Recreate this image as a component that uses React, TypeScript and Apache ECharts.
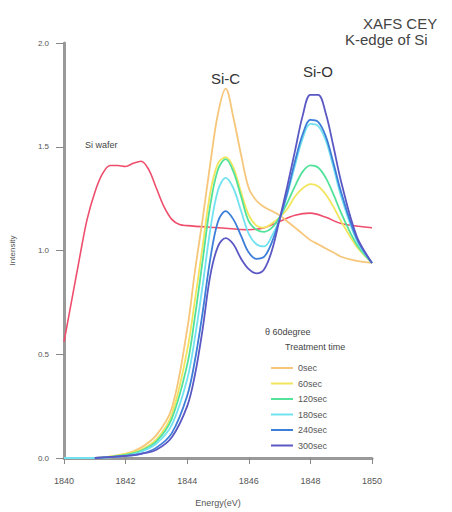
import React, { useEffect, useRef } from "react";
import * as echarts from "echarts";

const ENERGY = [1840, 1841, 1842, 1842.5, 1843, 1843.5, 1844, 1844.25, 1844.5, 1844.75, 1845, 1845.25, 1845.5, 1845.75, 1846, 1846.25, 1846.5, 1846.75, 1847, 1847.25, 1847.5, 1847.75, 1848, 1848.25, 1848.5, 1848.75, 1849, 1849.5, 1850];

const S0 = [0, 0, 0.02, 0.05, 0.11, 0.24, 0.62, 0.9, 1.15, 1.42, 1.66, 1.78, 1.64, 1.46, 1.3, 1.24, 1.21, 1.19, 1.17, 1.14, 1.11, 1.08, 1.05, 1.03, 1.01, 0.99, 0.97, 0.95, 0.94];
const S60 = [0, 0, 0.02, 0.04, 0.09, 0.21, 0.52, 0.76, 1.02, 1.28, 1.42, 1.45, 1.4, 1.28, 1.17, 1.12, 1.11, 1.13, 1.16, 1.2, 1.26, 1.3, 1.32, 1.31, 1.27, 1.21, 1.14, 1.02, 0.94];
const S120 = [0, 0, 0.015, 0.035, 0.08, 0.19, 0.45, 0.68, 0.95, 1.22, 1.39, 1.44, 1.38, 1.26, 1.14, 1.1, 1.09, 1.11, 1.16, 1.23, 1.31, 1.38, 1.41, 1.4, 1.35, 1.27, 1.18, 1.03, 0.94];
const S180 = [0, 0, 0.01, 0.03, 0.07, 0.16, 0.38, 0.58, 0.83, 1.1, 1.29, 1.35, 1.3, 1.19, 1.08, 1.03, 1.02, 1.07, 1.15, 1.27, 1.41, 1.54, 1.61, 1.6, 1.53, 1.4, 1.26, 1.05, 0.94];
const S240 = [null, 0, 0.01, 0.02, 0.05, 0.12, 0.3, 0.47, 0.7, 0.96, 1.14, 1.19, 1.15, 1.07, 0.99, 0.96, 0.97, 1.04, 1.15, 1.28, 1.43, 1.56, 1.63, 1.62, 1.55, 1.42, 1.28, 1.06, 0.94];
const S300 = [null, 0, 0.01, 0.02, 0.04, 0.1, 0.25, 0.4, 0.62, 0.88, 1.02, 1.06, 1.03, 0.96, 0.91, 0.89, 0.91, 1.0, 1.15, 1.31, 1.48, 1.65, 1.75, 1.75, 1.66, 1.5, 1.33, 1.07, 0.94];

const WAFER_E = [1840, 1840.25, 1840.5, 1840.75, 1841, 1841.25, 1841.5, 1841.75, 1842, 1842.25, 1842.5, 1842.75, 1843, 1843.25, 1843.5, 1843.75, 1844, 1845, 1846, 1846.5, 1847, 1847.5, 1848, 1848.5, 1849, 1850];
const WAFER_I = [0.56, 0.76, 0.96, 1.15, 1.28, 1.37, 1.41, 1.41, 1.405, 1.42, 1.43, 1.39, 1.3, 1.21, 1.15, 1.125, 1.12, 1.11, 1.1, 1.11, 1.14, 1.17, 1.18, 1.16, 1.13, 1.11];

const SERIES_NAMES = ["0sec", "60sec", "120sec", "180sec", "240sec", "300sec"];
const SERIES_VALUES = [S0, S60, S120, S180, S240, S300];
const SERIES_COLORS = ["#F6C67A", "#F2E55E", "#52E29A", "#72E2F0", "#3D7ED8", "#5B58C4"];
const WAFER_COLOR = "#EE4E6C";

const X_TICKS = [1840, 1842, 1844, 1846, 1848, 1850];

const FONT = "Liberation Sans, Arial, sans-serif";

export default function App() {
  const ref = useRef<HTMLDivElement>(null);

  useEffect(() => {
    if (!ref.current) return;
    const chart = echarts.init(ref.current, null, { renderer: "svg" });

    const pair = (xs: number[], ys: (number | null)[]) =>
      xs.map((x, i) => [x, ys[i] === null ? null : ys[i]]);

    const series: any[] = SERIES_NAMES.map((name, k) => ({
      name,
      type: "line",
      data: pair(ENERGY, SERIES_VALUES[k]),
      smooth: 0.35,
      showSymbol: false,
      symbol: "none",
      connectNulls: false,
      lineStyle: { color: SERIES_COLORS[k], width: 1.8 },
      itemStyle: { color: SERIES_COLORS[k] },
      z: 3 + k,
    }));
    series.push({
      name: "Si wafer",
      type: "line",
      data: pair(WAFER_E, WAFER_I),
      smooth: 0.35,
      showSymbol: false,
      symbol: "none",
      lineStyle: { color: WAFER_COLOR, width: 1.6 },
      itemStyle: { color: WAFER_COLOR },
      z: 2,
    });

    chart.setOption({
      animation: false,
      backgroundColor: "#ffffff",
      grid: { left: 64, right: 80, top: 43, bottom: 46, containLabel: false },
      xAxis: {
        type: "value",
        min: 1840,
        max: 1850,
        interval: 2,
        name: "Energy(eV)",
        nameLocation: "middle",
        nameGap: 40,
        nameTextStyle: { fontSize: 9, color: "#555", fontFamily: FONT },
        axisLine: { show: true, lineStyle: { color: "#999", width: 3 } },
        axisTick: { show: true, length: 6, lineStyle: { color: "#888", width: 1 } },
        axisLabel: {
          fontSize: 9,
          color: "#555",
          fontFamily: FONT,
          margin: 18,
          formatter: (v: number) => (X_TICKS.includes(v) ? String(v) : ""),
        },
        splitLine: { show: false },
      },
      yAxis: {
        type: "value",
        min: 0,
        max: 2,
        interval: 0.5,
        name: "Intensity",
        nameLocation: "middle",
        nameGap: 48,
        nameRotate: 90,
        nameTextStyle: { fontSize: 8, color: "#555", fontFamily: FONT },
        axisLine: { show: true, onZero: false, lineStyle: { color: "#999", width: 3 } },
        axisTick: { show: true, length: 8, lineStyle: { color: "#888", width: 1 } },
        axisLabel: {
          fontSize: 8,
          color: "#555",
          fontFamily: FONT,
          margin: 15,
          formatter: (v: number) => v.toFixed(1),
        },
        splitLine: { show: false },
      },
      legend: {
        data: SERIES_NAMES,
        orient: "vertical",
        left: 266,
        top: 357,
        itemWidth: 22,
        itemHeight: 2,
        itemGap: 3.5,
        icon: "rect",
        textStyle: { fontSize: 9, color: "#555", fontFamily: FONT, lineHeight: 12 },
        selectedMode: false,
      },
      graphic: [
        {
          type: "text",
          left: 363,
          top: 16,
          style: { text: "XAFS CEY", fontSize: 15, fill: "#444", fontFamily: FONT, textAlign: "left" },
        },
        {
          type: "text",
          left: 345,
          top: 32,
          style: { text: "K-edge of Si", fontSize: 15, fill: "#444", fontFamily: FONT },
        },
        {
          type: "text",
          left: 211,
          top: 71,
          style: { text: "Si-C", fontSize: 15, fill: "#333", fontFamily: FONT },
        },
        {
          type: "text",
          left: 303,
          top: 64,
          style: { text: "Si-O", fontSize: 15, fill: "#333", fontFamily: FONT },
        },
        {
          type: "text",
          left: 85,
          top: 140,
          style: { text: "Si wafer", fontSize: 9, fill: "#444", fontFamily: FONT },
        },
        {
          type: "text",
          left: 265,
          top: 327,
          style: { text: "θ 60degree", fontSize: 9, fill: "#444", fontFamily: FONT },
        },
        {
          type: "text",
          left: 285,
          top: 342,
          style: { text: "Treatment time", fontSize: 9, fill: "#444", fontFamily: FONT },
        },
      ],
      series,
    });

    return () => chart.dispose();
  }, []);

  return (
    <div
      ref={ref}
      style={{ position: "fixed", left: 0, top: 0, width: 452, height: 512, background: "#fff" }}
    />
  );
}
